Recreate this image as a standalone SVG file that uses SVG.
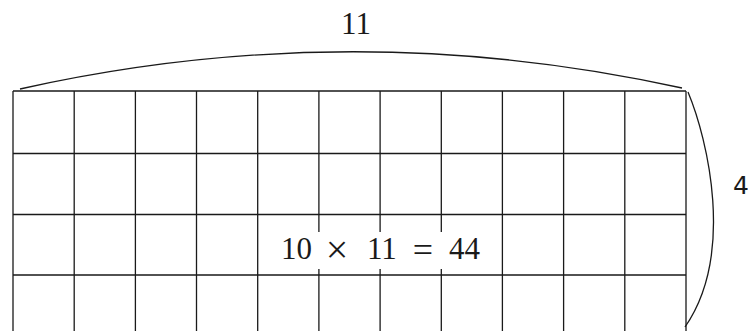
<svg xmlns="http://www.w3.org/2000/svg" width="748" height="331" viewBox="0 0 748 331">
<style>
.g{stroke:#1a1a1a;stroke-width:1.3;fill:none}
.c{stroke:#1a1a1a;stroke-width:1.3;fill:none}
.t{font-family:"Liberation Serif","Times New Roman",serif;fill:#1a1a1a}
.s{font-family:"DejaVu Sans","Liberation Sans",sans-serif;fill:#1a1a1a}
</style>
<rect width="748" height="331" fill="#fff"/>
<g id="grid" class="g">
<path d="M13 91V340M74.2 91V340M135.4 91V340M196.5 91V340M257.7 91V340M318.9 91V340M380.1 91V340M441.3 91V340M502.4 91V340M563.6 91V340M624.8 91V340M686 91V340"/>
<path d="M13 91H686M13 153.5H686M13 214.5H686M13 275H686"/>
</g>
<g id="connectors" class="c">
<path d="M20 89Q351 15 682 88"/>
<path d="M688 92C708 140 735 255 685 327"/>
</g>
<g id="label-top"><text class="t" x="356" y="34" font-size="31" text-anchor="middle">11</text></g>
<g id="label-right"><text class="s" x="741" y="194" font-size="25" text-anchor="middle">4</text></g>
<g id="equation">
<rect x="262" y="232" width="236" height="37" fill="#fff"/>
<text class="t" y="259" font-size="31"><tspan x="281">10</tspan><tspan x="367">11</tspan><tspan x="449">44</tspan></text>
<text class="t" x="337" y="263" font-size="40" text-anchor="middle">×</text>
<text class="t" x="423" y="262" font-size="36" text-anchor="middle">=</text>
</g>
</svg>
